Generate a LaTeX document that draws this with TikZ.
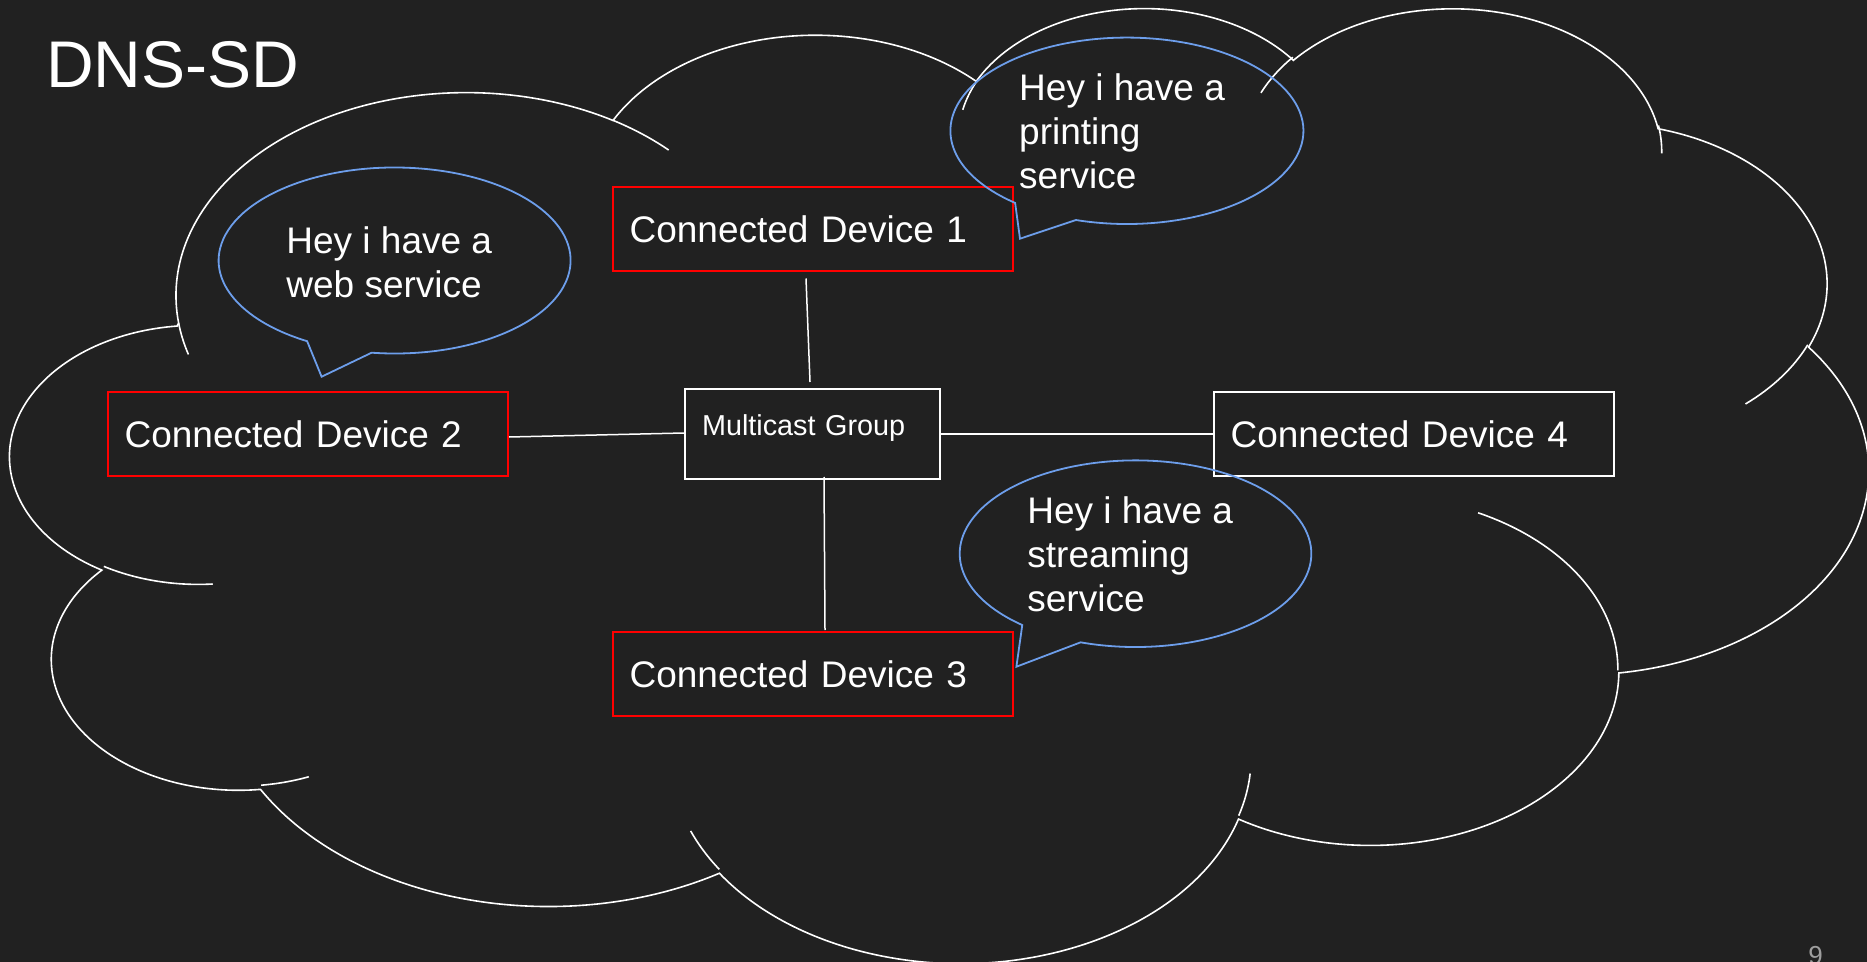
\documentclass[tikz,border=0pt]{standalone}
\usepackage{fontspec}
\setmainfont{Liberation Sans}
\usetikzlibrary{calc}
\definecolor{bg}{HTML}{212121}
\definecolor{cred}{HTML}{FF0000}
\definecolor{cblue}{HTML}{6D9EEB}
\definecolor{pgray}{HTML}{9E9E9E}
% cloud helpers (OOXML-like arcTo with visual angles)
\newcommand\cldmove[2]{\def\cldX{#1}\def\cldY{#2}\pgfpathmoveto{\pgfpointxy{#1}{#2}}}
\newcommand\cldarc[4]{%
  \pgfmathsetmacro\cldrx{#1}%
  \pgfmathsetmacro\cldry{#2}%
  \pgfmathsetmacro\cldsa{#3}%
  \pgfmathsetmacro\cldea{(#3)+(#4)}%
  \pgfmathsetmacro\cldts{atan2((\cldrx)*sin(\cldsa),(\cldry)*cos(\cldsa))}%
  \pgfmathsetmacro\cldtr{atan2((\cldrx)*sin(\cldea),(\cldry)*cos(\cldea))}%
  \pgfmathsetmacro\cldte{(\cldts)+mod((\cldtr)-(\cldts)+720,360)}%
  \pgfmathsetmacro\cldcx{(\cldX)-(\cldrx)*cos(\cldts)}%
  \pgfmathsetmacro\cldcy{(\cldY)-(\cldry)*sin(\cldts)}%
  \pgfpatharcaxes{\cldts}{\cldte}{\pgfpointxy{\cldrx}{0}}{\pgfpointxy{0}{\cldry}}%
  \pgfmathsetmacro\cldX{(\cldcx)+(\cldrx)*cos(\cldte)}%
  \pgfmathsetmacro\cldY{(\cldcy)+(\cldry)*sin(\cldte)}%
}
\tikzset{
  devbox/.style={draw=cred, line width=1pt, minimum width=200pt, minimum height=42pt,
    text width=183.4pt, align=left, inner xsep=8.3pt, inner ysep=0pt,
    font=\fontsize{18.5}{22}\selectfont, text=white},
  whitebox/.style={devbox, draw=white},
  link/.style={draw=white, line width=0.75pt},
  balloon/.style={draw=cblue, line width=0.9pt, line join=miter},
  balloontext/.style={anchor=north west, inner sep=0pt, align=left,
    font=\fontsize{18.5}{22}\selectfont, text=white},
}
\begin{document}
\begin{tikzpicture}[x=0.5pt, y=0.5pt, yscale=-1]
\useasboundingbox (0,0) rectangle (1867,962);
\fill[bg] (0,0) rectangle (1867,962);

% cloud
\begin{scope}[shift={(5.5pt,2.75pt)}, x=2.1493pt, y=1.1050pt]
  \pgfsetlinewidth{0.8pt}\pgfsetstrokecolor{white}
  \cldmove{39}{143.70}
  \cldarc{67.53}{91.90}{-190.48748}{123.78053}
  \cldarc{53.33}{72.67}{-144.10238}{89.94523}
  \cldarc{43.65}{59.45}{-145.80792}{99.72302}
  \cldarc{48.57}{65.95}{-130.98607}{117.24173}
  \cldarc{53.33}{72.73}{-78.70888}{109.02692}
  \cldarc{67.75}{92.20}{-46.26725}{130.26900}
  \cldarc{57.85}{78.67}{0.62502}{114.03333}
  \cldarc{67.52}{92.15}{22.45160}{115.17255}
  \cldarc{77.20}{105.43}{66.24263}{75.71102}
  \cldarc{43.60}{59.18}{-274.94208}{146.73557}
  \cldarc{43.45}{59.45}{-246.82850}{152.51885}
  \pgfpathclose
  \pgfusepath{stroke}
  \cldmove{46.93}{261.77}\cldarc{43.45}{59.45}{86.74200}{26.42950}\pgfusepath{stroke}
  \cldmove{69.28}{348.99}\cldarc{43.60}{59.18}{73.61047}{11.44747}\pgfusepath{stroke}
  \cldmove{164.78}{390.90}\cldarc{67.52}{92.15}{137.62415}{14.08110}\pgfusepath{stroke}
  \cldmove{288.27}{347.51}\cldarc{67.52}{92.15}{6.45327}{15.99835}\pgfusepath{stroke}
  \cldmove{341.29}{229.54}\cldarc{57.85}{78.67}{-70.29235}{70.91737}\pgfusepath{stroke}
  \cldmove{417.98}{153.54}\cldarc{53.33}{72.73}{30.31803}{27.75150}\pgfusepath{stroke}
  \cldmove{383.24}{54.26}\cldarc{48.57}{65.95}{-13.74433}{14.85890}\pgfusepath{stroke}
  \cldmove{290.78}{39.52}\cldarc{48.57}{65.95}{-149.18145}{18.19537}\pgfusepath{stroke}
  \cldmove{221.41}{47.20}\cldarc{43.65}{59.45}{-163.49427}{17.68635}\pgfusepath{stroke}
  \cldmove{140.00}{51.92}\cldarc{67.53}{91.90}{-66.70695}{12.31935}\pgfusepath{stroke}
  \cldmove{41.27}{157.89}\cldarc{67.53}{91.90}{157.65435}{11.85817}\pgfusepath{stroke}
\end{scope}

% title
\node[anchor=base west, inner sep=0pt, text=white, font=\fontsize{33}{40}\selectfont] (title) at (45.8,87.3) {DNS-SD};

% boxes
\node[devbox] (d1) at (813,229.5) {Connected Device 1};
\node[devbox] (d2) at (308,434) {Connected Device 2};
\node[devbox] (d3) at (813,674) {Connected Device 3};
\node[whitebox] (d4) at (1414,434) {Connected Device 4};
\node[draw=white, line width=1pt, minimum width=127.5pt, minimum height=45pt,
  text width=110.5pt, inner xsep=8.5pt, inner ysep=0pt, align=left,
  text height=10.3pt, text depth=9pt, text=white,
  font=\fontsize{14.4}{17}\selectfont] (mc) at (812.5,434) {Multicast Group};

% connectors
\draw[link] ($(d1.south)+(-7,6)$) -- ($(mc.north)+(-2.5,-6)$);
\draw[link] ($(d2.east)+(0,3)$) -- ($(mc.west)+(0,-1)$);
\draw[link] (mc.east) -- (d4.west);
\draw[link] ($(mc.south)+(11.5,-3)$) -- ($(d3.north)+(12,-1)$);

% balloons
\coordinate (b1) at (394.6,260.5);
\coordinate (b2) at (1126.9,130.8);
\coordinate (b3) at (1135.5,553.7);
\coordinate (tip1) at (321.6,376.7);
\coordinate (tip2) at (1020,238.7);
\coordinate (tip3) at (1016.4,666.7);
\draw[balloon] (b1) ++(97.5:88pt and 46.5pt)
  arc[start angle=97.5, end angle=-240.2, x radius=88pt, y radius=46.5pt] -- (tip1) -- cycle;
\draw[balloon] (b2) ++(106.8:88.25pt and 46.6pt)
  arc[start angle=106.8, end angle=-230.7, x radius=88.25pt, y radius=46.6pt] -- (tip2) -- cycle;
\draw[balloon] (b3) ++(108.2:87.9pt and 46.65pt)
  arc[start angle=108.2, end angle=-229.9, x radius=87.9pt, y radius=46.65pt] -- (tip3) -- cycle;

\node[balloontext] (t1) at (286,226.5) {Hey i have a\\web service};
\node[balloontext] (t2) at (1018.8,73.5) {Hey i have a\\printing\\service};
\node[balloontext] (t3) at (1027,496) {Hey i have a\\streaming\\service};

% page number
\node[anchor=north, inner sep=0pt, text=pgray, font=\fontsize{13}{15}\selectfont] (pg) at (1815.5,946) {9};
\end{tikzpicture}
\end{document}
